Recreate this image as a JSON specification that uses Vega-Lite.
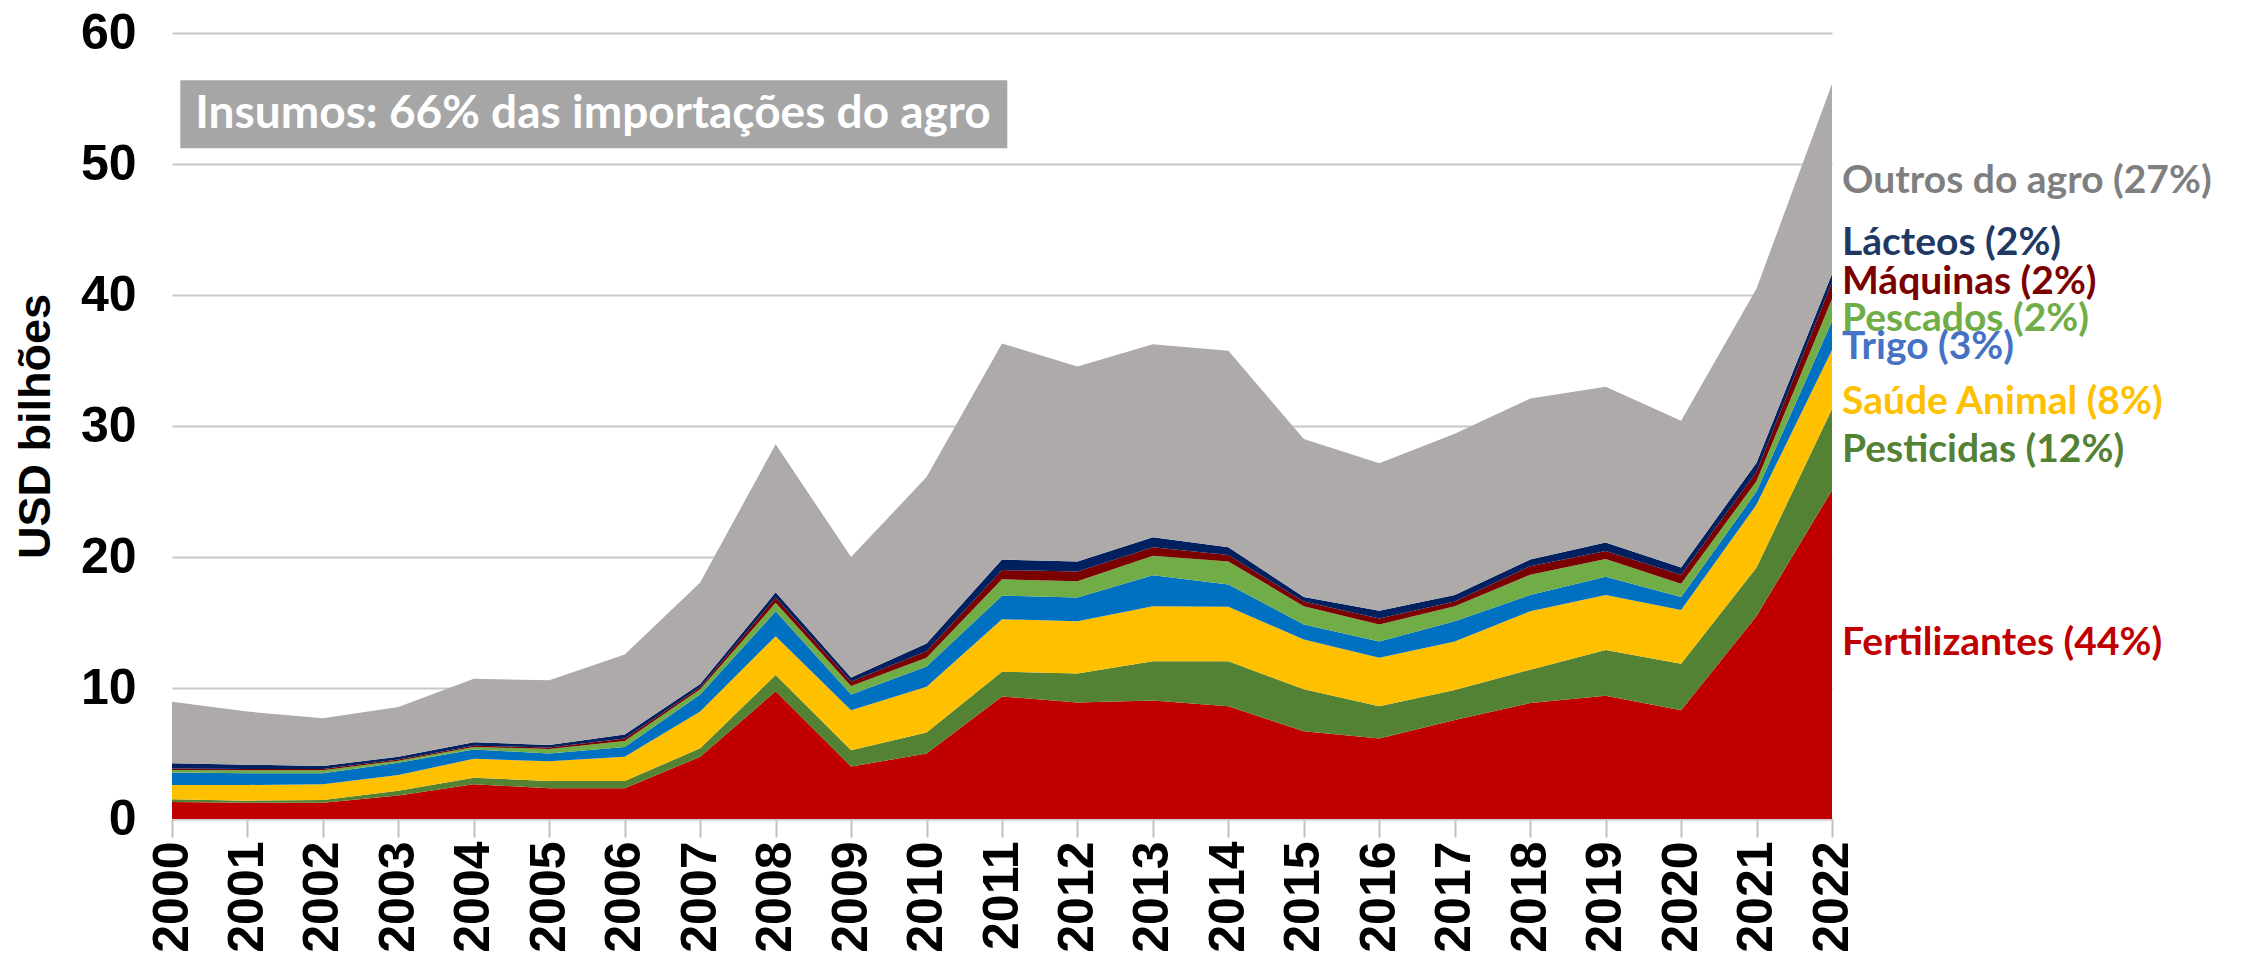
{
  "$schema": "https://vega.github.io/schema/vega-lite/v6.json",
  "width": 1660,
  "height": 786,
  "autosize": "none",
  "padding": {"left": 172, "top": 33, "right": 428, "bottom": 154},
  "background": "white",
  "config": {"view": {"stroke": null}},
  "datasets": {
    "ordemCategorias": [
      {"categoria": "Fertilizantes", "ordem": 1},
      {"categoria": "Pesticidas", "ordem": 2},
      {"categoria": "Saúde Animal", "ordem": 3},
      {"categoria": "Trigo", "ordem": 4},
      {"categoria": "Pescados", "ordem": 5},
      {"categoria": "Máquinas", "ordem": 6},
      {"categoria": "Lácteos", "ordem": 7},
      {"categoria": "Outros do agro", "ordem": 8}
    ],
    "serie": [
      {"ano": 2000, "categoria": "Fertilizantes", "valor": 1.3},
      {"ano": 2001, "categoria": "Fertilizantes", "valor": 1.25},
      {"ano": 2002, "categoria": "Fertilizantes", "valor": 1.25},
      {"ano": 2003, "categoria": "Fertilizantes", "valor": 1.8},
      {"ano": 2004, "categoria": "Fertilizantes", "valor": 2.65},
      {"ano": 2005, "categoria": "Fertilizantes", "valor": 2.35},
      {"ano": 2006, "categoria": "Fertilizantes", "valor": 2.35},
      {"ano": 2007, "categoria": "Fertilizantes", "valor": 4.75},
      {"ano": 2008, "categoria": "Fertilizantes", "valor": 9.75},
      {"ano": 2009, "categoria": "Fertilizantes", "valor": 4.0},
      {"ano": 2010, "categoria": "Fertilizantes", "valor": 5.0},
      {"ano": 2011, "categoria": "Fertilizantes", "valor": 9.35},
      {"ano": 2012, "categoria": "Fertilizantes", "valor": 8.9},
      {"ano": 2013, "categoria": "Fertilizantes", "valor": 9.05},
      {"ano": 2014, "categoria": "Fertilizantes", "valor": 8.6},
      {"ano": 2015, "categoria": "Fertilizantes", "valor": 6.7},
      {"ano": 2016, "categoria": "Fertilizantes", "valor": 6.15},
      {"ano": 2017, "categoria": "Fertilizantes", "valor": 7.55},
      {"ano": 2018, "categoria": "Fertilizantes", "valor": 8.85},
      {"ano": 2019, "categoria": "Fertilizantes", "valor": 9.4},
      {"ano": 2020, "categoria": "Fertilizantes", "valor": 8.3},
      {"ano": 2021, "categoria": "Fertilizantes", "valor": 15.5},
      {"ano": 2022, "categoria": "Fertilizantes", "valor": 25.1},
      {"ano": 2000, "categoria": "Pesticidas", "valor": 0.2},
      {"ano": 2001, "categoria": "Pesticidas", "valor": 0.15},
      {"ano": 2002, "categoria": "Pesticidas", "valor": 0.2},
      {"ano": 2003, "categoria": "Pesticidas", "valor": 0.35},
      {"ano": 2004, "categoria": "Pesticidas", "valor": 0.5},
      {"ano": 2005, "categoria": "Pesticidas", "valor": 0.55},
      {"ano": 2006, "categoria": "Pesticidas", "valor": 0.55},
      {"ano": 2007, "categoria": "Pesticidas", "valor": 0.65},
      {"ano": 2008, "categoria": "Pesticidas", "valor": 1.25},
      {"ano": 2009, "categoria": "Pesticidas", "valor": 1.25},
      {"ano": 2010, "categoria": "Pesticidas", "valor": 1.6},
      {"ano": 2011, "categoria": "Pesticidas", "valor": 1.9},
      {"ano": 2012, "categoria": "Pesticidas", "valor": 2.2},
      {"ano": 2013, "categoria": "Pesticidas", "valor": 3.0},
      {"ano": 2014, "categoria": "Pesticidas", "valor": 3.45},
      {"ano": 2015, "categoria": "Pesticidas", "valor": 3.2},
      {"ano": 2016, "categoria": "Pesticidas", "valor": 2.45},
      {"ano": 2017, "categoria": "Pesticidas", "valor": 2.3},
      {"ano": 2018, "categoria": "Pesticidas", "valor": 2.55},
      {"ano": 2019, "categoria": "Pesticidas", "valor": 3.5},
      {"ano": 2020, "categoria": "Pesticidas", "valor": 3.55},
      {"ano": 2021, "categoria": "Pesticidas", "valor": 3.7},
      {"ano": 2022, "categoria": "Pesticidas", "valor": 6.2},
      {"ano": 2000, "categoria": "Saúde Animal", "valor": 1.1},
      {"ano": 2001, "categoria": "Saúde Animal", "valor": 1.2},
      {"ano": 2002, "categoria": "Saúde Animal", "valor": 1.2},
      {"ano": 2003, "categoria": "Saúde Animal", "valor": 1.2},
      {"ano": 2004, "categoria": "Saúde Animal", "valor": 1.45},
      {"ano": 2005, "categoria": "Saúde Animal", "valor": 1.5},
      {"ano": 2006, "categoria": "Saúde Animal", "valor": 1.85},
      {"ano": 2007, "categoria": "Saúde Animal", "valor": 2.8},
      {"ano": 2008, "categoria": "Saúde Animal", "valor": 2.95},
      {"ano": 2009, "categoria": "Saúde Animal", "valor": 3.05},
      {"ano": 2010, "categoria": "Saúde Animal", "valor": 3.5},
      {"ano": 2011, "categoria": "Saúde Animal", "valor": 4.0},
      {"ano": 2012, "categoria": "Saúde Animal", "valor": 4.0},
      {"ano": 2013, "categoria": "Saúde Animal", "valor": 4.2},
      {"ano": 2014, "categoria": "Saúde Animal", "valor": 4.15},
      {"ano": 2015, "categoria": "Saúde Animal", "valor": 3.8},
      {"ano": 2016, "categoria": "Saúde Animal", "valor": 3.7},
      {"ano": 2017, "categoria": "Saúde Animal", "valor": 3.7},
      {"ano": 2018, "categoria": "Saúde Animal", "valor": 4.45},
      {"ano": 2019, "categoria": "Saúde Animal", "valor": 4.2},
      {"ano": 2020, "categoria": "Saúde Animal", "valor": 4.1},
      {"ano": 2021, "categoria": "Saúde Animal", "valor": 4.8},
      {"ano": 2022, "categoria": "Saúde Animal", "valor": 4.5},
      {"ano": 2000, "categoria": "Trigo", "valor": 0.95},
      {"ano": 2001, "categoria": "Trigo", "valor": 0.9},
      {"ano": 2002, "categoria": "Trigo", "valor": 0.85},
      {"ano": 2003, "categoria": "Trigo", "valor": 0.95},
      {"ano": 2004, "categoria": "Trigo", "valor": 0.7},
      {"ano": 2005, "categoria": "Trigo", "valor": 0.6},
      {"ano": 2006, "categoria": "Trigo", "valor": 0.75},
      {"ano": 2007, "categoria": "Trigo", "valor": 1.3},
      {"ano": 2008, "categoria": "Trigo", "valor": 1.9},
      {"ano": 2009, "categoria": "Trigo", "valor": 1.2},
      {"ano": 2010, "categoria": "Trigo", "valor": 1.55},
      {"ano": 2011, "categoria": "Trigo", "valor": 1.8},
      {"ano": 2012, "categoria": "Trigo", "valor": 1.8},
      {"ano": 2013, "categoria": "Trigo", "valor": 2.35},
      {"ano": 2014, "categoria": "Trigo", "valor": 1.7},
      {"ano": 2015, "categoria": "Trigo", "valor": 1.15},
      {"ano": 2016, "categoria": "Trigo", "valor": 1.25},
      {"ano": 2017, "categoria": "Trigo", "valor": 1.55},
      {"ano": 2018, "categoria": "Trigo", "valor": 1.25},
      {"ano": 2019, "categoria": "Trigo", "valor": 1.4},
      {"ano": 2020, "categoria": "Trigo", "valor": 1.0},
      {"ano": 2021, "categoria": "Trigo", "valor": 1.0},
      {"ano": 2022, "categoria": "Trigo", "valor": 2.2},
      {"ano": 2000, "categoria": "Pescados", "valor": 0.2},
      {"ano": 2001, "categoria": "Pescados", "valor": 0.22},
      {"ano": 2002, "categoria": "Pescados", "valor": 0.22},
      {"ano": 2003, "categoria": "Pescados", "valor": 0.15},
      {"ano": 2004, "categoria": "Pescados", "valor": 0.2},
      {"ano": 2005, "categoria": "Pescados", "valor": 0.35},
      {"ano": 2006, "categoria": "Pescados", "valor": 0.45},
      {"ano": 2007, "categoria": "Pescados", "valor": 0.4},
      {"ano": 2008, "categoria": "Pescados", "valor": 0.65},
      {"ano": 2009, "categoria": "Pescados", "valor": 0.65},
      {"ano": 2010, "categoria": "Pescados", "valor": 0.65},
      {"ano": 2011, "categoria": "Pescados", "valor": 1.25},
      {"ano": 2012, "categoria": "Pescados", "valor": 1.25},
      {"ano": 2013, "categoria": "Pescados", "valor": 1.5},
      {"ano": 2014, "categoria": "Pescados", "valor": 1.75},
      {"ano": 2015, "categoria": "Pescados", "valor": 1.4},
      {"ano": 2016, "categoria": "Pescados", "valor": 1.3},
      {"ano": 2017, "categoria": "Pescados", "valor": 1.15},
      {"ano": 2018, "categoria": "Pescados", "valor": 1.55},
      {"ano": 2019, "categoria": "Pescados", "valor": 1.35},
      {"ano": 2020, "categoria": "Pescados", "valor": 1.0},
      {"ano": 2021, "categoria": "Pescados", "valor": 0.8},
      {"ano": 2022, "categoria": "Pescados", "valor": 1.7},
      {"ano": 2000, "categoria": "Máquinas", "valor": 0.1},
      {"ano": 2001, "categoria": "Máquinas", "valor": 0.1},
      {"ano": 2002, "categoria": "Máquinas", "valor": 0.1},
      {"ano": 2003, "categoria": "Máquinas", "valor": 0.1},
      {"ano": 2004, "categoria": "Máquinas", "valor": 0.1},
      {"ano": 2005, "categoria": "Máquinas", "valor": 0.1},
      {"ano": 2006, "categoria": "Máquinas", "valor": 0.2},
      {"ano": 2007, "categoria": "Máquinas", "valor": 0.15},
      {"ano": 2008, "categoria": "Máquinas", "valor": 0.4},
      {"ano": 2009, "categoria": "Máquinas", "valor": 0.35},
      {"ano": 2010, "categoria": "Máquinas", "valor": 0.5},
      {"ano": 2011, "categoria": "Máquinas", "valor": 0.7},
      {"ano": 2012, "categoria": "Máquinas", "valor": 0.75},
      {"ano": 2013, "categoria": "Máquinas", "valor": 0.65},
      {"ano": 2014, "categoria": "Máquinas", "valor": 0.5},
      {"ano": 2015, "categoria": "Máquinas", "valor": 0.35},
      {"ano": 2016, "categoria": "Máquinas", "valor": 0.45},
      {"ano": 2017, "categoria": "Máquinas", "valor": 0.35},
      {"ano": 2018, "categoria": "Máquinas", "valor": 0.65},
      {"ano": 2019, "categoria": "Máquinas", "valor": 0.6},
      {"ano": 2020, "categoria": "Máquinas", "valor": 0.7},
      {"ano": 2021, "categoria": "Máquinas", "valor": 0.7},
      {"ano": 2022, "categoria": "Máquinas", "valor": 1.3},
      {"ano": 2000, "categoria": "Lácteos", "valor": 0.4},
      {"ano": 2001, "categoria": "Lácteos", "valor": 0.33},
      {"ano": 2002, "categoria": "Lácteos", "valor": 0.23},
      {"ano": 2003, "categoria": "Lácteos", "valor": 0.2},
      {"ano": 2004, "categoria": "Lácteos", "valor": 0.25},
      {"ano": 2005, "categoria": "Lácteos", "valor": 0.2},
      {"ano": 2006, "categoria": "Lácteos", "valor": 0.3},
      {"ano": 2007, "categoria": "Lácteos", "valor": 0.25},
      {"ano": 2008, "categoria": "Lácteos", "valor": 0.4},
      {"ano": 2009, "categoria": "Lácteos", "valor": 0.3},
      {"ano": 2010, "categoria": "Lácteos", "valor": 0.6},
      {"ano": 2011, "categoria": "Lácteos", "valor": 0.8},
      {"ano": 2012, "categoria": "Lácteos", "valor": 0.75},
      {"ano": 2013, "categoria": "Lácteos", "valor": 0.75},
      {"ano": 2014, "categoria": "Lácteos", "valor": 0.6},
      {"ano": 2015, "categoria": "Lácteos", "valor": 0.35},
      {"ano": 2016, "categoria": "Lácteos", "valor": 0.6},
      {"ano": 2017, "categoria": "Lácteos", "valor": 0.5},
      {"ano": 2018, "categoria": "Lácteos", "valor": 0.5},
      {"ano": 2019, "categoria": "Lácteos", "valor": 0.65},
      {"ano": 2020, "categoria": "Lácteos", "valor": 0.55},
      {"ano": 2021, "categoria": "Lácteos", "valor": 0.7},
      {"ano": 2022, "categoria": "Lácteos", "valor": 0.6},
      {"ano": 2000, "categoria": "Outros do agro", "valor": 4.7},
      {"ano": 2001, "categoria": "Outros do agro", "valor": 4.05},
      {"ano": 2002, "categoria": "Outros do agro", "valor": 3.65},
      {"ano": 2003, "categoria": "Outros do agro", "valor": 3.8},
      {"ano": 2004, "categoria": "Outros do agro", "valor": 4.85},
      {"ano": 2005, "categoria": "Outros do agro", "valor": 4.95},
      {"ano": 2006, "categoria": "Outros do agro", "valor": 6.1},
      {"ano": 2007, "categoria": "Outros do agro", "valor": 7.75},
      {"ano": 2008, "categoria": "Outros do agro", "valor": 11.3},
      {"ano": 2009, "categoria": "Outros do agro", "valor": 9.2},
      {"ano": 2010, "categoria": "Outros do agro", "valor": 12.7},
      {"ano": 2011, "categoria": "Outros do agro", "valor": 16.5},
      {"ano": 2012, "categoria": "Outros do agro", "valor": 14.9},
      {"ano": 2013, "categoria": "Outros do agro", "valor": 14.75},
      {"ano": 2014, "categoria": "Outros do agro", "valor": 15.0},
      {"ano": 2015, "categoria": "Outros do agro", "valor": 12.05},
      {"ano": 2016, "categoria": "Outros do agro", "valor": 11.25},
      {"ano": 2017, "categoria": "Outros do agro", "valor": 12.3},
      {"ano": 2018, "categoria": "Outros do agro", "valor": 12.3},
      {"ano": 2019, "categoria": "Outros do agro", "valor": 11.9},
      {"ano": 2020, "categoria": "Outros do agro", "valor": 11.2},
      {"ano": 2021, "categoria": "Outros do agro", "valor": 13.3},
      {"ano": 2022, "categoria": "Outros do agro", "valor": 14.5}
    ],
    "caixa": [
      {"ano": 2000.11, "ano2": 2011.07, "valor": 51.2, "valor2": 56.4, "texto": "Insumos: 66% das importações do agro", "anoTexto": 2005.58, "valorTexto": 53.8}
    ],
    "rotulos": [
      {"ano": 2022, "valor": 48.7, "rotulo": "Outros do agro (27%)"},
      {"ano": 2022, "valor": 44.0, "rotulo": "Lácteos (2%)"},
      {"ano": 2022, "valor": 41.0, "rotulo": "Máquinas (2%)"},
      {"ano": 2022, "valor": 38.2, "rotulo": "Pescados (2%)"},
      {"ano": 2022, "valor": 36.0, "rotulo": "Trigo (3%)"},
      {"ano": 2022, "valor": 31.8, "rotulo": "Saúde Animal (8%)"},
      {"ano": 2022, "valor": 28.2, "rotulo": "Pesticidas (12%)"},
      {"ano": 2022, "valor": 13.4, "rotulo": "Fertilizantes (44%)"}
    ]
  },
  "layer": [
    {
      "data": {"name": "serie"},
      "transform": [
        {"lookup": "categoria", "from": {"data": {"name": "ordemCategorias"}, "key": "categoria", "fields": ["ordem"]}}
      ],
      "mark": {"type": "area", "interpolate": "linear", "opacity": 1},
      "encoding": {
        "x": {
          "field": "ano", "type": "quantitative",
          "scale": {"domain": [2000, 2022], "nice": false, "zero": false},
          "axis": {
            "title": null,
            "values": [2000,2001,2002,2003,2004,2005,2006,2007,2008,2009,2010,2011,2012,2013,2014,2015,2016,2017,2018,2019,2020,2021,2022],
            "format": "d",
            "labelAngle": -90,
            "labelAlign": "right",
            "labelBaseline": "middle",
            "labelFont": "Liberation Sans",
            "labelFontWeight": "bold",
            "labelFontSize": 50,
            "labelColor": "#000000",
            "labelPadding": 4,
            "labelOverlap": false,
            "labelFlush": false,
            "tickSize": 18,
            "tickColor": "#c0c0c0",
            "tickWidth": 2,
            "domain": true,
            "domainColor": "#d0d0d0",
            "domainWidth": 2,
            "grid": false
          }
        },
        "y": {
          "field": "valor", "type": "quantitative", "stack": "zero",
          "scale": {"domain": [0, 60], "nice": false},
          "axis": {
            "title": "USD bilhões",
            "titleFont": "Liberation Sans",
            "titleFontWeight": "bold",
            "titleFontSize": 45,
            "titleColor": "#000000",
            "titlePadding": 22,
            "values": [0, 10, 20, 30, 40, 50, 60],
            "labelFont": "Liberation Sans",
            "labelFontWeight": "bold",
            "labelFontSize": 50,
            "labelColor": "#000000",
            "labelPadding": 36,
            "ticks": false,
            "domain": false,
            "grid": true,
            "gridColor": "#c8c8c8",
            "gridWidth": 2
          }
        },
        "color": {
          "field": "categoria", "type": "nominal",
          "scale": {
            "domain": ["Fertilizantes", "Pesticidas", "Saúde Animal", "Trigo", "Pescados", "Máquinas", "Lácteos", "Outros do agro"],
            "range": ["#c00000", "#548235", "#ffc000", "#0070c0", "#70ad47", "#7b0000", "#002060", "#aeaaaa"]
          },
          "legend": null
        },
        "order": {"field": "ordem", "type": "quantitative", "sort": "ascending"}
      }
    },
    {
      "data": {"name": "caixa"},
      "mark": {"type": "rect", "color": "#a6a6a6"},
      "encoding": {
        "x": {"field": "ano", "type": "quantitative"},
        "x2": {"field": "ano2"},
        "y": {"field": "valor", "type": "quantitative"},
        "y2": {"field": "valor2"}
      }
    },
    {
      "data": {"name": "caixa"},
      "mark": {"type": "text", "font": "Lato", "fontWeight": "bold", "fontSize": 46, "color": "#ffffff", "align": "center", "baseline": "middle"},
      "encoding": {
        "x": {"field": "anoTexto", "type": "quantitative"},
        "y": {"field": "valorTexto", "type": "quantitative"},
        "text": {"field": "texto"}
      }
    },
    {
      "data": {"name": "rotulos"},
      "mark": {"type": "text", "font": "Lato", "fontWeight": "bold", "fontSize": 39, "align": "left", "baseline": "middle", "dx": 10},
      "encoding": {
        "x": {"field": "ano", "type": "quantitative"},
        "y": {"field": "valor", "type": "quantitative"},
        "text": {"field": "rotulo"},
        "color": {
          "field": "rotulo", "type": "nominal",
          "scale": {
            "domain": ["Outros do agro (27%)", "Lácteos (2%)", "Máquinas (2%)", "Pescados (2%)", "Trigo (3%)", "Saúde Animal (8%)", "Pesticidas (12%)", "Fertilizantes (44%)"],
            "range": ["#7f7f7f", "#1f3864", "#7b0000", "#70ad47", "#4472c4", "#ffc000", "#548235", "#c00000"]
          },
          "legend": null
        }
      }
    }
  ],
  "resolve": {"scale": {"color": "independent"}}
}
